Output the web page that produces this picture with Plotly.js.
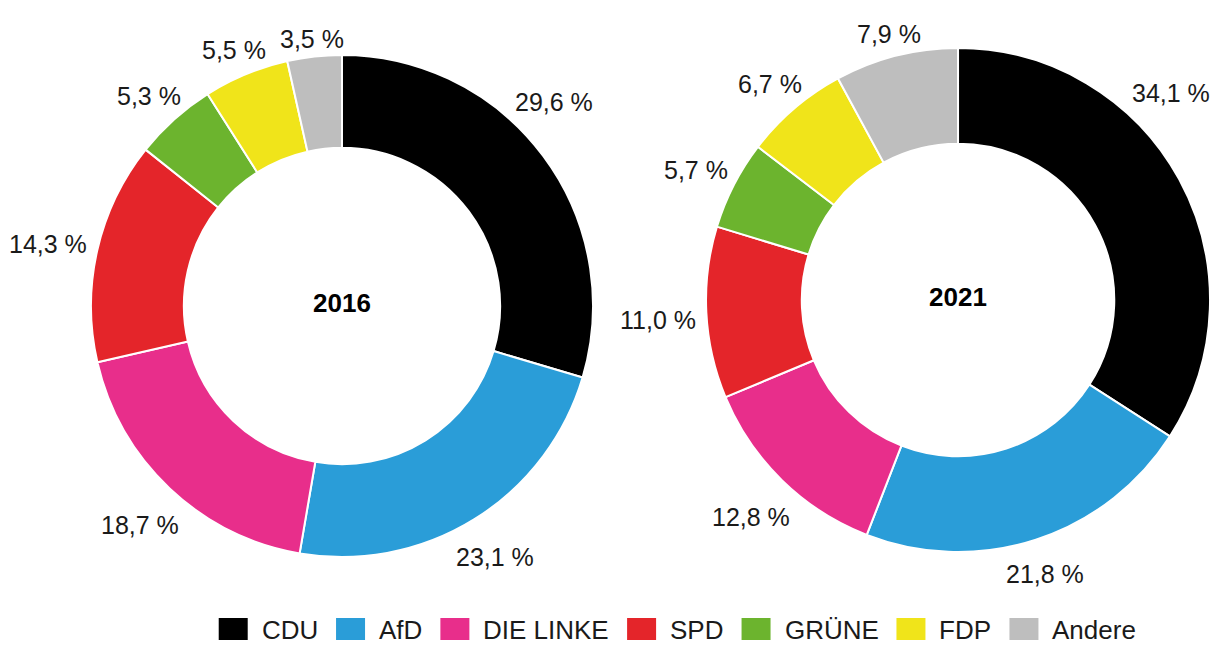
<!DOCTYPE html>
<html>
<head>
<meta charset="utf-8">
<script src="https://cdn.plot.ly/plotly-3.0.1.min.js"></script>
<style>html,body{margin:0;padding:0;background:#fff;}#chart{width:1216px;height:646px;}</style>
</head>
<body>
<div id="chart"></div>
<script>
const parties = ['CDU', 'AfD', 'DIE LINKE', 'SPD', 'GRÜNE', 'FDP', 'Andere'];
const colors = ['#000000', '#2a9dd8', '#e82e8b', '#e4252a', '#6cb42e', '#f0e41a', '#bebebe'];
const values2016 = [29.6, 23.1, 18.7, 14.3, 5.3, 5.5, 3.5];
const values2021 = [34.1, 21.8, 12.8, 11.0, 5.7, 6.7, 7.9];
const years = ['2016', '2021'];

const W = 1216, H = 646;
const FONT = "'Liberation Sans', Arial, sans-serif";
const LABEL_SIZE = 25;

const domains = [
  {x: [0.0748, 0.4877], y: [0.1378, 0.9149]},
  {x: [0.5806, 0.9951], y: [0.1455, 0.9257]}
];
const holes = [0.63, 0.62];

function fmt(v) { return v.toFixed(1).replace('.', ',') + ' %'; }

function pie(values, dom, hole) {
  return {
    type: 'pie',
    labels: parties,
    values: values,
    sort: false,
    direction: 'clockwise',
    rotation: 0,
    hole: hole,
    domain: dom,
    marker: {colors: colors, line: {color: '#ffffff', width: 2}},
    textinfo: 'none',
    showlegend: false,
    hoverinfo: 'label+value'
  };
}

const allValues = [values2016, values2021];
const traces = allValues.map((v, i) => pie(v, domains[i], holes[i]));

const ctx = document.createElement('canvas').getContext('2d');
const annotations = [], shapes = [];

// outside value labels: box placed at each slice's mid-angle, nearest edge a fixed gap from the ring
const GAP = 10, HALF_H = 9.5, Y_NUDGE = 5;
allValues.forEach((vals, p) => {
  const dom = domains[p];
  const wpx = (dom.x[1] - dom.x[0]) * W, hpx = (dom.y[1] - dom.y[0]) * H;
  const R = Math.min(wpx, hpx) / 2;
  const cx = (dom.x[0] + dom.x[1]) / 2 * W;
  const cy = H - (dom.y[0] + dom.y[1]) / 2 * H;
  // year in the hole
  annotations.push({xref: 'paper', yref: 'paper', x: cx / W, y: (H - cy) / H,
    xanchor: 'center', yanchor: 'middle', yshift: 3, text: '<b>' + years[p] + '</b>', showarrow: false,
    font: {family: FONT, size: 26, color: '#000'}});
  const tot = vals.reduce((a, b) => a + b, 0);
  ctx.font = LABEL_SIZE + "px 'Liberation Sans'";
  let cum = 0;
  vals.forEach((v) => {
    const mid = (cum + v / 2) / tot * 2 * Math.PI;
    cum += v;
    const ux = Math.sin(mid), uy = -Math.cos(mid);
    const txt = fmt(v);
    const tw = ctx.measureText(txt).width;
    const D = R + GAP + Math.abs(ux) * tw / 2 + Math.abs(uy) * HALF_H;
    let x = cx + D * ux, y = cy + D * uy;
    if (x + tw / 2 > cx + R) {
      x = cx + R - tw / 2;
      const dx = x - cx;
      if (Math.abs(dx) < D) y = cy + Math.sign(uy || -1) * Math.sqrt(D * D - dx * dx);
    }
    annotations.push({xref: 'paper', yref: 'paper', x: x / W, y: (H - y - Y_NUDGE) / H,
      xanchor: 'center', yanchor: 'middle', text: txt, showarrow: false,
      font: {family: FONT, size: LABEL_SIZE, color: '#1a1a1a'}});
  });
});

// custom legend (rectangular swatches)
const LEG_SIZE = 26;
ctx.font = LEG_SIZE + "px 'Liberation Sans'";
const swW = 29, swH = 22, gap1 = 12, gap2 = 20;
const widths = parties.map(p => ctx.measureText(p).width);
let total = 0;
widths.forEach((w, i) => { total += swW + gap1 + w + (i < widths.length - 1 ? gap2 : 0); });
let x = 676.5 - total / 2;
const legY = 629;
parties.forEach((p, i) => {
  shapes.push({type: 'rect', xref: 'paper', yref: 'paper',
    x0: x / W, x1: (x + swW) / W, y0: (H - legY - swH / 2) / H, y1: (H - legY + swH / 2) / H,
    fillcolor: colors[i], line: {width: 0}});
  annotations.push({xref: 'paper', yref: 'paper', x: (x + swW + gap1) / W, y: (H - legY - 1) / H,
    xanchor: 'left', yanchor: 'middle', text: p, showarrow: false,
    font: {family: FONT, size: LEG_SIZE, color: '#1a1a1a'}});
  x += swW + gap1 + widths[i] + gap2;
});

const layout = {
  width: W, height: H,
  margin: {l: 0, r: 0, t: 0, b: 0},
  paper_bgcolor: '#ffffff',
  separators: ',.',
  font: {family: FONT, size: 25, color: '#1a1a1a'},
  showlegend: false,
  shapes: shapes,
  annotations: annotations
};

Plotly.newPlot('chart', traces, layout, {displayModeBar: false, staticPlot: true});
</script>
</body>
</html>
